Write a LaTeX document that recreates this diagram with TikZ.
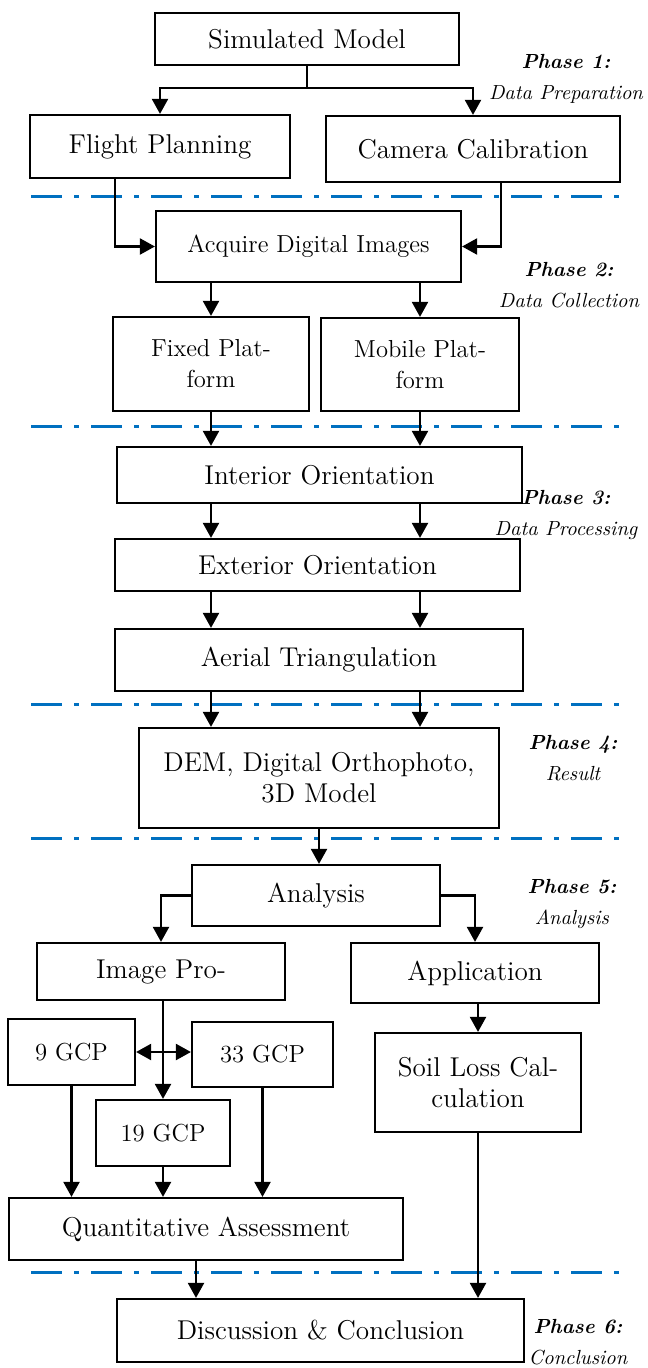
\documentclass[tikz,border=0pt]{standalone}
\usepackage{xcolor}
\usetikzlibrary{arrows.meta}
\newcommand\boxfont{\fontsize{13.6}{15.5}\selectfont}
\newcommand\smallboxfont{\fontsize{12.3}{15.5}\selectfont}
\newcommand\phasefont{\fontsize{10.2}{15.5}\selectfont}
\definecolor{sepblue}{RGB}{0,112,192}

\begin{document}
\begin{tikzpicture}[
    x=0.5pt, y=-0.5pt,
    line width=1.1pt,
    >={Triangle[width=8pt,length=7.5pt]},
    box/.style={draw, fill=white, align=center, inner sep=0pt, font=\boxfont},
    sbox/.style={box, font=\smallboxfont},
    phase/.style={align=center, inner sep=0pt, font=\phasefont\itshape},
    sep/.style={draw=sepblue, line width=1.5pt, dash pattern=on 15.5pt off 6pt on 2.5pt off 6pt}
  ]
  \useasboundingbox (0,0) rectangle (647,1368);
  % phase borders
  \draw[sep] (31,197) -- (620,197);
  \draw[sep] (31,427) -- (620,427);
  \draw[sep] (31,704) -- (620,704);
  \draw[sep] (31,838) -- (620,838);
  \draw[sep] (31,1272) -- (620,1272);

  \node[box, minimum width=152pt, minimum height=26pt] (sim) at (307,39) {Simulated Model};
  \node[box, minimum width=130pt, minimum height=31.5pt] (flight) at (160,146.5) {Flight Planning};
  \node[box, minimum width=147pt, minimum height=33pt] (camera) at (473,149) {Camera Calibration};
  \node[sbox, minimum width=152.5pt, minimum height=35.5pt] (acquire) at (308.5,246.5) {Acquire Digital Images};
  \node[sbox, minimum width=98pt, minimum height=47pt] (fixed) at (211,364) {Fixed Plat-\\form};
  \node[sbox, minimum width=99pt, minimum height=46.5pt] (mobile) at (420,364.5) {Mobile Plat-\\form};
  \node[box, minimum width=202.5pt, minimum height=28pt] (interior) at (319.5,475) {Interior Orientation};
  \node[box, minimum width=202.5pt, minimum height=26pt] (exterior) at (317.5,565) {Exterior Orientation};
  \node[box, minimum width=204pt, minimum height=31pt] (aerial) at (319,660) {Aerial Triangulation};
  \node[box, minimum width=180pt, minimum height=50pt] (dem) at (319,778) {DEM, Digital Orthophoto,\\3D Model};
  \node[box, minimum width=124pt, minimum height=30.5pt] (analysis) at (316,895.5) {Analysis};
  \node[box, minimum width=124pt, minimum height=28.5pt] (imgpro) at (161,971.5) {Image Pro-};
  \node[box, minimum width=124pt, minimum height=30pt] (application) at (475,973) {Application};
  \node[sbox, minimum width=63.5pt, minimum height=33pt] (gcp9) at (71.5,1052) {9 GCP};
  \node[sbox, minimum width=70.5pt, minimum height=32.5pt] (gcp33) at (262.5,1054.5) {33 GCP};
  \node[sbox, minimum width=67pt, minimum height=33pt] (gcp19) at (163,1133) {19 GCP};
  \node[box, minimum width=103pt, minimum height=49.5pt] (soil) at (478,1082.5) {Soil Loss Cal-\\culation};
  \node[box, minimum width=197pt, minimum height=31pt] (quant) at (206,1229) {Quantitative Assessment};
  \node[box, minimum width=203.5pt, minimum height=31.5pt] (discussion) at (320.5,1330.5) {Discussion \& Conclusion};

  \node[phase] (ph1) at (566,78.5) {\textbf{Phase 1:}\\Data Preparation};
  \node[phase] (ph2) at (569,285.5) {\textbf{Phase 2:}\\Data Collection};
  \node[phase] (ph3) at (566,515) {\textbf{Phase 3:}\\Data Processing};
  \node[phase] (ph4) at (573,758) {\textbf{Phase 4:}\\Result};
  \node[phase] (ph5) at (572,903.5) {\textbf{Phase 5:}\\Analysis};
  \node[phase] (ph6) at (578,1342.5) {\textbf{Phase 6:}\\Conclusion};

  \draw[->] (sim.south) -- ++(0,22) -| (flight.north);
  \draw[->] (sim.south) -- ++(0,22) -| (camera.north);
  \draw[->] ([xshift=-22.5pt]flight.south) |- (acquire.west);
  \draw[->] ([xshift=14pt]camera.south) |- (acquire.east);
  \draw[->] (acquire.south -| fixed) -- (fixed.north);
  \draw[->] (acquire.south -| mobile) -- (mobile.north);
  \draw[->] (fixed.south) -- (fixed.south |- interior.north);
  \draw[->] (mobile.south) -- (mobile.south |- interior.north);
  \draw[->] (interior.south -| fixed) -- (exterior.north -| fixed);
  \draw[->] (interior.south -| mobile) -- (exterior.north -| mobile);
  \draw[->] (exterior.south -| fixed) -- (aerial.north -| fixed);
  \draw[->] (exterior.south -| mobile) -- (aerial.north -| mobile);
  \draw[->] (aerial.south -| fixed) -- (dem.north -| fixed);
  \draw[->] (aerial.south -| mobile) -- (dem.north -| mobile);
  \draw[->] (dem.south) -- (dem.south |- analysis.north);
  \draw[->] (analysis.west) -| (imgpro.north);
  \draw[->] (analysis.east) -| (application.north);
  \draw[->] (imgpro.south -| gcp19) -- (gcp19.north);
  \draw[<->] (gcp9.east) -- (gcp9.east -| gcp33.west);
  \draw[->] (application.south -| soil) -- (soil.north);
  \draw[->] (gcp9.south) -- (gcp9.south |- quant.north);
  \draw[->] (gcp19.south) -- (gcp19.south |- quant.north);
  \draw[->] (gcp33.south) -- (gcp33.south |- quant.north);
  \coordinate (qs) at ([xshift=-5pt]quant.south);
  \draw[->] (qs) -- (qs |- discussion.north);
  \draw[->] (soil.south) -- (soil.south |- discussion.north);
\end{tikzpicture}
\end{document}
